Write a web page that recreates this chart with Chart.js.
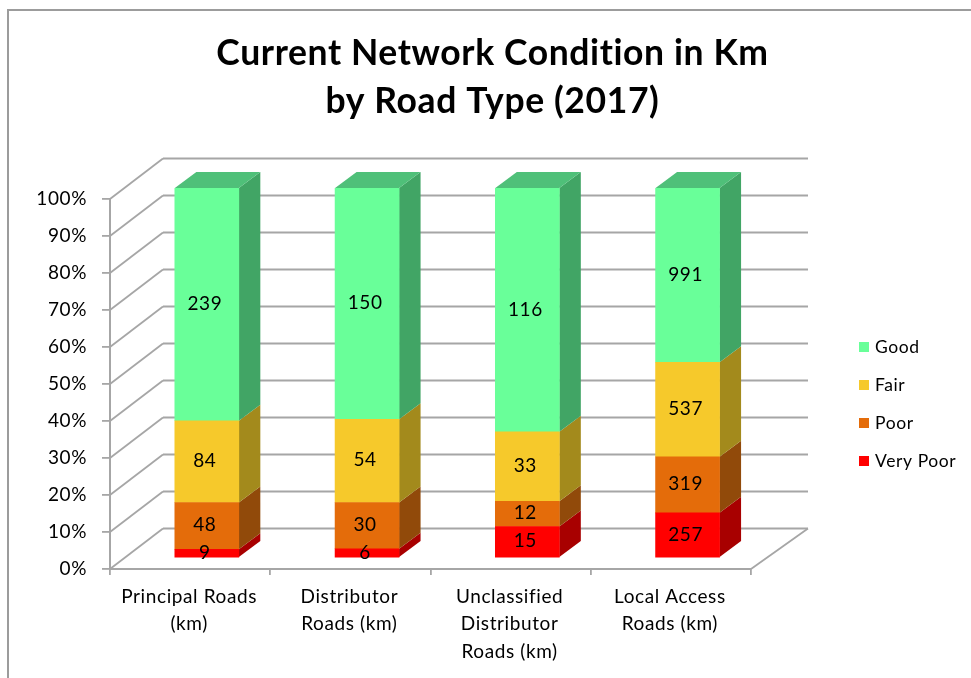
<!DOCTYPE html>
<html>
<head>
<meta charset="utf-8">
<style>html,body{margin:0;padding:0;background:#fff;overflow:hidden}canvas{display:block}</style>
<script src="https://cdn.jsdelivr.net/npm/chart.js@4"></script>
</head>
<body>
<canvas id="c" width="971" height="678"></canvas>
<script>
const categories = [["Principal Roads","(km)"],["Distributor","Roads (km)"],["Unclassified","Distributor","Roads (km)"],["Local Access","Roads (km)"]];
const veryPoor = [9,6,15,257];
const poor = [48,30,12,319];
const fair = [84,54,33,537];
const good = [239,150,116,991];
const seriesNames = ["Very Poor","Poor","Fair","Good"];
const seriesValues = [veryPoor,poor,fair,good];
const faceColors = ["#ff0000","#e46c0a","#f6c92b","#69ff99"];
const sideColors = ["#a80000","#914a0a","#a38a1c","#41a565"];
const topColor = "#4fc079";
const titleLines = ["Current Network Condition in Km","by Road Type (2017)"];
const FONT = "Lato, Carlito, Calibri, sans-serif";
const LINE = "#a6a6a6";
const WALL = {dx:53,dy:-40.5};
const BAR = {dx:16.7,dy:-11};
const DEPTH = {dx:21.5,dy:-16};

const totals = categories.map((_,i)=>seriesValues.reduce((s,a)=>s+a[i],0));
const datasets = seriesNames.map((n,k)=>({
  label:n,
  data:seriesValues[k].map((v,i)=>v/totals[i]*100),
  backgroundColor:faceColors[k],
  borderWidth:0,
  barThickness:64,
  stack:"s"
}));

function seg(ctx,x1,y1,x2,y2){ctx.beginPath();ctx.moveTo(x1,y1);ctx.lineTo(x2,y2);ctx.stroke();}
function poly(ctx,pts,c){ctx.fillStyle=c;ctx.beginPath();pts.forEach((p,i)=>i?ctx.lineTo(p[0],p[1]):ctx.moveTo(p[0],p[1]));ctx.closePath();ctx.fill();}

const threeD = {
  id:"threeD",
  beforeUpdate(chart){ chart.ctx.letterSpacing="0.6px"; },
  afterLayout(chart){
    chart.titleBlock.left=14;chart.titleBlock.right=971;
  },
  beforeDraw(chart){
    const ctx=chart.ctx;
    ctx.letterSpacing="0.6px";
    ctx.save();
    ctx.strokeStyle="#9c9c9c";ctx.lineWidth=2;
    ctx.beginPath();ctx.moveTo(8,678);ctx.lineTo(8,10);ctx.lineTo(971,10);ctx.stroke();
    ctx.restore();
  },
  beforeDatasetsDraw(chart){
    const ctx=chart.ctx,y=chart.scales.y,a=chart.chartArea;
    ctx.save();
    ctx.strokeStyle=LINE;ctx.lineWidth=1.8;
    for(let v=0;v<=100;v+=10){
      const p=y.getPixelForValue(v);
      seg(ctx,a.left,p,a.left+WALL.dx,p+WALL.dy);
      seg(ctx,a.left+WALL.dx,p+WALL.dy,a.right+WALL.dx+4,p+WALL.dy);
    }
    const b=y.getPixelForValue(0);
    seg(ctx,a.right,b,a.right+WALL.dx+4,b+WALL.dy);
    ctx.translate(BAR.dx,BAR.dy);
    datasets.forEach((d,k)=>{
      chart.getDatasetMeta(k).data.forEach(el=>{
        const r=el.x+el.width/2,l=el.x-el.width/2;
        poly(ctx,[[r,el.y],[r,el.base],[r+DEPTH.dx,el.base+DEPTH.dy],[r+DEPTH.dx,el.y+DEPTH.dy]],sideColors[k]);
        if(k===datasets.length-1){
          poly(ctx,[[l,el.y],[r,el.y],[r+DEPTH.dx,el.y+DEPTH.dy],[l+DEPTH.dx,el.y+DEPTH.dy]],topColor);
        }
      });
    });
  },
  afterDatasetsDraw(chart){
    const ctx=chart.ctx;
    ctx.textAlign="center";ctx.textBaseline="middle";
    ctx.fillStyle="#000";ctx.font="19px "+FONT;
    datasets.forEach((d,k)=>{
      chart.getDatasetMeta(k).data.forEach((el,i)=>{
        ctx.fillText(String(seriesValues[k][i]),el.x-2,(el.y+el.base)/2-0.5);
      });
    });
    ctx.restore();
    ctx.save();
    ctx.textAlign="left";ctx.textBaseline="middle";ctx.font="17.5px "+FONT;
    const yy=[347,385,423,461];
    [3,2,1,0].forEach((k,n)=>{
      ctx.fillStyle=faceColors[k];ctx.fillRect(859,yy[n]-5,10,10);
      ctx.fillStyle="#000";ctx.fillText(seriesNames[k],875,yy[n]);
    });
    ctx.restore();
  }
};

new Chart(document.getElementById("c"),{
  type:"bar",
  data:{labels:categories,datasets},
  plugins:[threeD],
  options:{
    responsive:false,animation:false,
    layout:{padding:{left:0,right:220,top:0,bottom:0}},
    plugins:{
      legend:{display:false},
      tooltip:{enabled:false},
      title:{display:true,text:titleLines,color:"#000",
        font:{family:FONT,size:35.5,weight:"bold",lineHeight:1.352},
        padding:{top:30,bottom:73}}
    },
    scales:{
      x:{stacked:true,
        afterFit(s){s.height=109;},
        grid:{drawOnChartArea:false,color:LINE,tickLength:6,lineWidth:1.8,offset:true},
        border:{color:LINE,width:2},
        ticks:{color:"#000",font:{family:FONT,size:19,lineHeight:1.45},padding:8,labelOffset:-1,maxRotation:0,autoSkip:false}},
      y:{stacked:true,min:0,max:100,
        afterFit(s){s.width=110;},
        grid:{drawOnChartArea:false,color:LINE,tickLength:8,lineWidth:1.8},
        border:{color:LINE,width:2},
        ticks:{stepSize:10,color:"#000",font:{family:FONT,size:19},padding:15,callback:v=>v+"%"}}
    }
  }
});
</script>
</body>
</html>
